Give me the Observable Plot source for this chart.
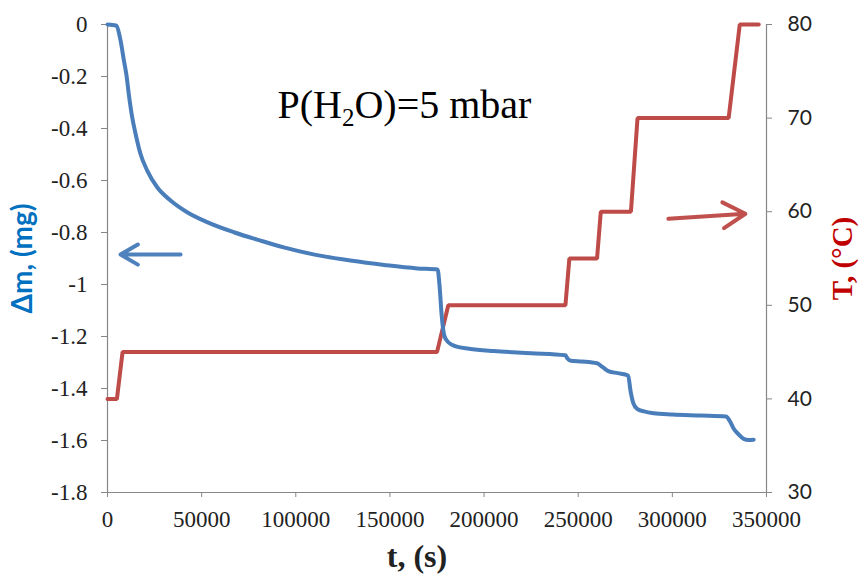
<!DOCTYPE html>
<html><head><meta charset="utf-8">
<script src="https://cdn.jsdelivr.net/npm/d3@7"></script>
<script src="https://cdn.jsdelivr.net/npm/@observablehq/plot@0.6"></script>
<style>body{margin:0;background:#fff}</style>
</head><body><div id="chart"></div>
<script>
// Mass change Δm (mg) vs time t (s)
const massTime = [0, 4500, 6900, 8700, 10100, 11300, 13100, 14900, 17500, 21100, 26400, 33500, 42300, 52900, 67100, 81200, 93600, 110000, 129000, 147000, 164500, 175300, 176300, 177500, 179000, 181000, 185000, 192000, 205000, 225000, 243200, 244300, 246000, 252000, 260000, 263000, 266000, 271000, 276500, 277800, 279200, 281300, 285000, 290000, 300000, 315000, 328500, 330500, 332600, 335000, 337900, 340500, 343200];
const massValue = [0, -0.004, -0.06, -0.138, -0.196, -0.267, -0.356, -0.42, -0.497, -0.562, -0.626, -0.677, -0.722, -0.76, -0.799, -0.831, -0.857, -0.885, -0.908, -0.925, -0.938, -0.942, -1.0, -1.12, -1.2, -1.222, -1.238, -1.247, -1.256, -1.264, -1.272, -1.285, -1.293, -1.296, -1.303, -1.318, -1.333, -1.341, -1.35, -1.41, -1.455, -1.478, -1.488, -1.495, -1.5, -1.504, -1.508, -1.525, -1.555, -1.575, -1.594, -1.598, -1.597];
// Temperature T (°C) vs time t (s)
const tempTime = [0, 5000, 8000, 175000, 181000, 243200, 245300, 260000, 262000, 278000, 281500, 329900, 335800, 345900];
const tempValue = [40, 40, 45, 45, 50, 50, 55, 55, 60, 60, 70, 70, 80, 80];
// Axis ticks
const xTicks = [0, 50000, 100000, 150000, 200000, 250000, 300000, 350000];
const massTicks = [-1.8, -1.6, -1.4, -1.2, -1, -0.8, -0.6, -0.4, -0.2, 0];
const tempTicks = [30, 40, 50, 60, 70, 80];
// Texts
const xTitle = ["t, (s)"];
const massTitle = ["Δm, (mg)"];
const tempTitle = ["T, (°C)"];
const annotationText = ["P(H2O)=5 mbar"];
const annotationTime = [157700];
const annotationMass = [-0.3085];
// Arrows (data coordinates)
const blueArrowTime = [38800, 6900];
const blueArrowMass = [-0.885, -0.885];
const redArrowTime = [297900, 338800];
const redArrowTemp = [59.24, 59.78];

const massDomain = [-1.8, 0];
const tempDomain = [30, 80];
const tToM = T => massDomain[0] + (T - tempDomain[0]) / (tempDomain[1] - tempDomain[0]) * (massDomain[1] - massDomain[0]);
const mToT = m => tempDomain[0] + (m - massDomain[0]) / (massDomain[1] - massDomain[0]) * (tempDomain[1] - tempDomain[0]);

const massData = massTime.map((t, i) => ({t, m: massValue[i]}));
const tempData = tempTime.map((t, i) => ({t, m: tToM(tempValue[i])}));
const annData = annotationText.map((s, i) => ({s, t: annotationTime[i], m: annotationMass[i]}));

const axisColor = "#868686";
const blue = "#4A7EBB";
const red = "#BE4B48";

const chart = Plot.plot({
  width: 859, height: 578,
  marginLeft: 107, marginRight: 93, marginTop: 24, marginBottom: 86,
  x: {domain: [0, 350000]},
  y: {domain: massDomain},
  style: {background: "white"},
  marks: [
    Plot.ruleX([0, 350000], {stroke: axisColor, strokeWidth: 1.2}),
    Plot.ruleY([massDomain[0]], {stroke: axisColor, strokeWidth: 1.2}),
    Plot.axisX({ticks: xTicks, tickFormat: d => String(d), tickSize: 5, tickPadding: 13, fontSize: 23, fontFamily: "Liberation Serif", stroke: axisColor, fill: "#222", label: null}),
    Plot.axisY({anchor: "left", ticks: massTicks, tickFormat: d => String(d), tickSize: 6, tickPadding: 14, fontSize: 23, fontFamily: "Liberation Serif", stroke: axisColor, fill: "#222", label: null}),
    Plot.axisY({anchor: "right", ticks: tempTicks.map(tToM), tickFormat: d => String(Math.round(mToT(d))), tickSize: 5, tickPadding: 16, fontSize: 21, fontFamily: "Lato", stroke: axisColor, fill: "#222", label: null}),
    Plot.line(tempData, {x: "t", y: "m", stroke: red, strokeWidth: 4, strokeLinejoin: "miter"}),
    Plot.line(massData, {x: "t", y: "m", stroke: blue, strokeWidth: 4, strokeLinejoin: "round", strokeLinecap: "round", curve: "monotone-x"}),
    Plot.arrow([0], {x1: () => blueArrowTime[0], x2: () => blueArrowTime[1], y1: () => blueArrowMass[0], y2: () => blueArrowMass[1], stroke: "#4F81BD", strokeWidth: 4, headLength: 12}),
    Plot.arrow([0], {x1: () => redArrowTime[0], x2: () => redArrowTime[1], y1: () => tToM(redArrowTemp[0]), y2: () => tToM(redArrowTemp[1]), stroke: "#C0504D", strokeWidth: 4, headLength: 12}),
    Plot.text(annData, {x: "t", y: "m", text: "s", fontSize: 40, fontFamily: "Liberation Serif", fill: "#000"}),
    Plot.text(massTitle, {frameAnchor: "left", textAnchor: "middle", dx: -84, rotate: -90, fontSize: 28, fontWeight: "bold", fontFamily: "Lato", fill: "#0070C0"}),
    Plot.text(tempTitle, {frameAnchor: "right", textAnchor: "middle", dx: 76, rotate: -90, fontSize: 29, fontWeight: "bold", fontFamily: "Liberation Serif", fill: "#C00000"}),
    Plot.text(xTitle, {frameAnchor: "bottom", lineAnchor: "middle", dy: 64, dx: -20, fontSize: 32, fontWeight: "bold", fontFamily: "Liberation Serif", fill: "#222"})
  ]
});

// Subscript for H2O
d3.select(chart).selectAll("text").each(function () {
  if (this.textContent === annotationText[0]) {
    const el = d3.select(this);
    el.text(null);
    el.append("tspan").text("P(H");
    el.append("tspan").text("2").attr("font-size", 25).attr("dy", 8);
    el.append("tspan").text("O)=5 mbar").attr("dy", -8);
  }
});

document.getElementById("chart").append(chart);
</script>
</body></html>
